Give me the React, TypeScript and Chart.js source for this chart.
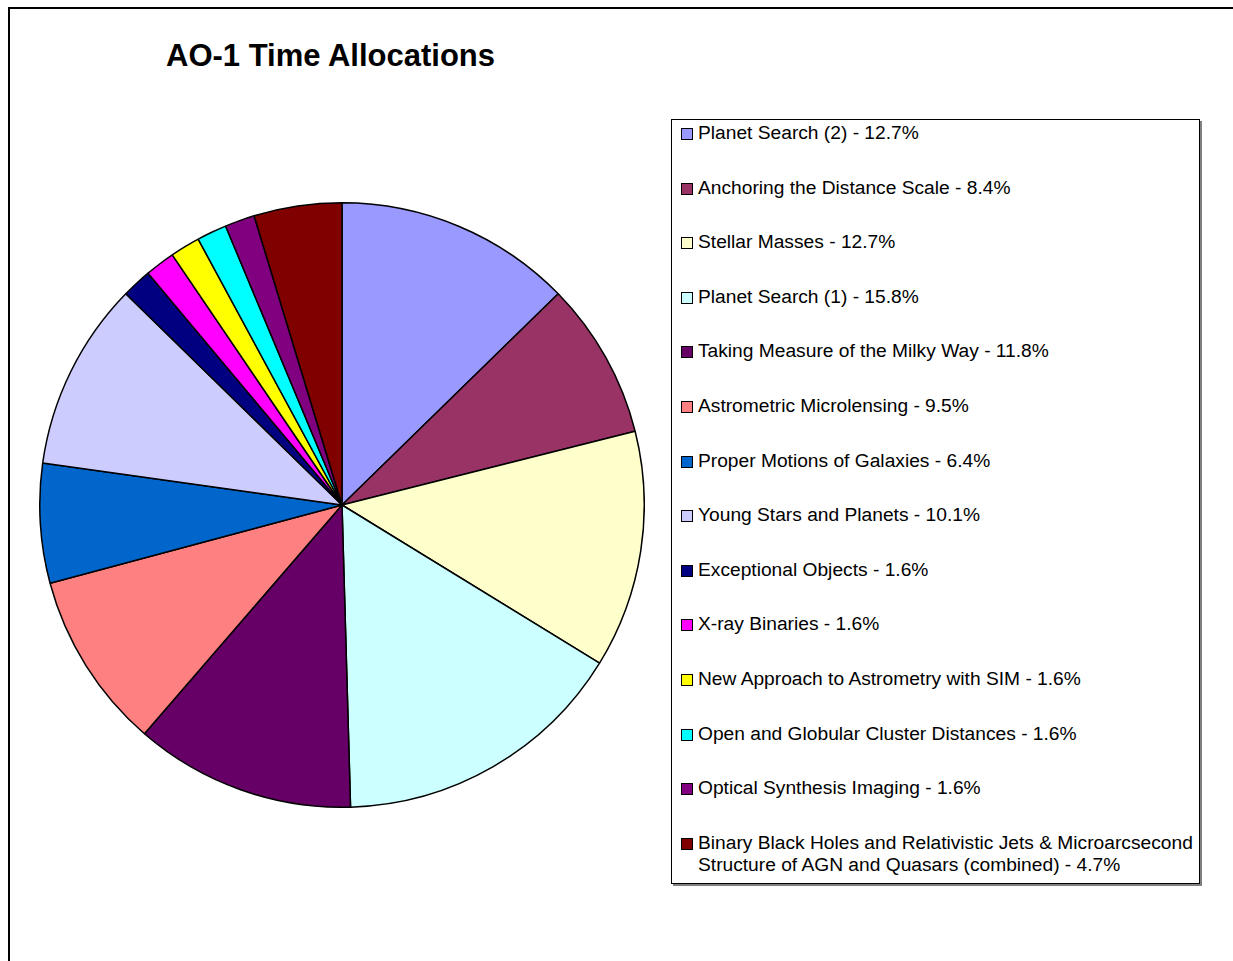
import React, { useEffect, useRef } from "react";
import { Chart, registerables } from "chart.js";

Chart.register(...registerables);

const TITLE = "AO-1 Time Allocations";

const categories: string[] = [
  "Planet Search (2)",
  "Anchoring the Distance Scale",
  "Stellar Masses",
  "Planet Search (1)",
  "Taking Measure of the Milky Way",
  "Astrometric Microlensing",
  "Proper Motions of Galaxies",
  "Young Stars and Planets",
  "Exceptional Objects",
  "X-ray Binaries",
  "New Approach to Astrometry with SIM",
  "Open and Globular Cluster Distances",
  "Optical Synthesis Imaging",
  "Binary Black Holes and Relativistic Jets & Microarcsecond Structure of AGN and Quasars (combined)",
];

const values: number[] = [12.7, 8.4, 12.7, 15.8, 11.8, 9.5, 6.4, 10.1, 1.6, 1.6, 1.6, 1.6, 1.6, 4.7];

const colors: string[] = [
  "#9999FF",
  "#993366",
  "#FFFFCC",
  "#CCFFFF",
  "#660066",
  "#FF8080",
  "#0066CC",
  "#CCCCFF",
  "#000080",
  "#FF00FF",
  "#FFFF00",
  "#00FFFF",
  "#800080",
  "#800000",
];

// legend text lines (last item wraps in the original)
const legendLines: string[][] = [
  ["Planet Search (2) - 12.7%"],
  ["Anchoring the Distance Scale - 8.4%"],
  ["Stellar Masses - 12.7%"],
  ["Planet Search (1) - 15.8%"],
  ["Taking Measure of the Milky Way - 11.8%"],
  ["Astrometric Microlensing - 9.5%"],
  ["Proper Motions of Galaxies - 6.4%"],
  ["Young Stars and Planets - 10.1%"],
  ["Exceptional Objects - 1.6%"],
  ["X-ray Binaries - 1.6%"],
  ["New Approach to Astrometry with SIM - 1.6%"],
  ["Open and Globular Cluster Distances - 1.6%"],
  ["Optical Synthesis Imaging - 1.6%"],
  ["Binary Black Holes and Relativistic Jets & Microarcsecond", "Structure of AGN and Quasars (combined) - 4.7%"],
];

const FONT = '"Liberation Sans", Arial, Helvetica, sans-serif';

export default function App() {
  const canvasRef = useRef<HTMLCanvasElement | null>(null);

  useEffect(() => {
    if (!canvasRef.current) return;
    const chart = new Chart(canvasRef.current, {
      type: "pie",
      data: {
        labels: categories,
        datasets: [
          {
            data: values,
            backgroundColor: colors,
            borderColor: "#000000",
            borderWidth: 1.5,
            hoverOffset: 0,
          },
        ],
      },
      options: {
        responsive: false,
        animation: false,
        layout: { padding: 0 },
        plugins: {
          legend: { display: false },
          tooltip: { enabled: false },
          title: { display: false },
        },
      },
    });
    return () => chart.destroy();
  }, []);

  const ROW = 54.6;

  return (
    <div
      style={{
        position: "relative",
        width: 1200,
        height: 940,
        fontFamily: FONT,
        background: "#fff",
      }}
    >
      <div style={{ position: "fixed", left: 8, top: 7, width: 2, height: 2000, background: "#000" }} />
      <div style={{ position: "fixed", left: 8, top: 7, width: 3000, height: 2, background: "#000" }} />
      <div
        style={{
          position: "absolute",
          left: 158,
          top: 30,
          fontSize: 31,
          fontWeight: "bold",
          lineHeight: "36px",
          whiteSpace: "nowrap",
          color: "#000",
        }}
      >
        {TITLE}
      </div>
      <div style={{ position: "absolute", left: 31, top: 194, width: 606, height: 606 }}>
        <canvas ref={canvasRef} width={606} height={606} style={{ width: 606, height: 606 }} />
      </div>
      <div
        style={{
          position: "absolute",
          left: 663,
          top: 111,
          width: 527,
          height: 763,
          border: "1px solid #000",
          boxShadow: "2px 2px 0 #808080",
          background: "#fff",
        }}
      >
        {legendLines.map((lines, i) => (
          <div
            key={i}
            style={{
              position: "absolute",
              left: 0,
              top: 2 + i * ROW,
              width: 527,
            }}
          >
            <div
              style={{
                position: "absolute",
                left: 9,
                top: 6,
                width: 10,
                height: 10,
                border: "1px solid #000",
                background: colors[i],
              }}
            />
            <div
              style={{
                position: "absolute",
                left: 26,
                top: 0,
                fontSize: 19.2,
                lineHeight: "22px",
                whiteSpace: "nowrap",
                color: "#000",
              }}
            >
              {lines.map((l, j) => (
                <div key={j}>{l}</div>
              ))}
            </div>
          </div>
        ))}
      </div>
    </div>
  );
}
